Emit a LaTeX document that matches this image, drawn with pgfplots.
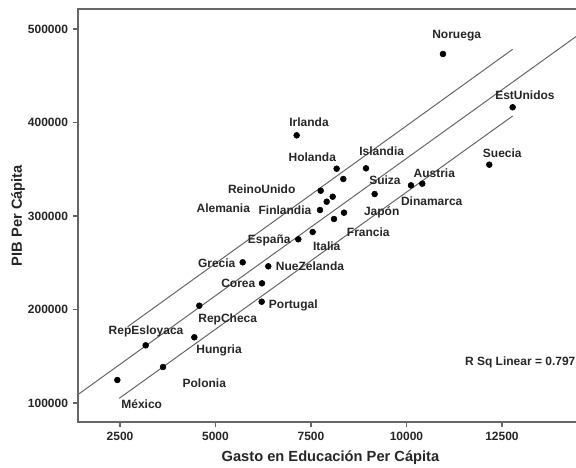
\documentclass[border=0pt]{standalone}
\usepackage{pgfplots}
\pgfplotsset{compat=1.18}
\usepackage{fontspec}
\setmainfont{Liberation Sans}
\begin{document}
\begin{tikzpicture}
\begin{axis}[name=ax, scale only axis, width=381pt, height=309.75pt,
  xmin=1400, xmax=14700, ymin=79700, ymax=521400,
  xtick={2500,5000,7500,10000,12500},
  ytick={100000,200000,300000,400000,500000},
  tick align=outside, tick pos=left, major tick length=4pt,
  scaled ticks=false,
  /pgf/number format/fixed,
  /pgf/number format/precision=0,
  /pgf/number format/assume math mode=true,
  /pgf/number format/set thousands separator={},
  tick label style={font=\fontsize{9}{10}\selectfont\bfseries, text=black!85},
  tick style={draw=black!60, line width=0.8pt},
  axis line style={draw=black!60, line width=0.9pt},
  xlabel={Gasto en Educación Per Cápita},
  ylabel={PIB Per Cápita},
  label style={font=\fontsize{11}{12}\selectfont\bfseries, text=black!85},
  xlabel style={at={(axis description cs:0.497,-0.087)}, anchor=center},
  ylabel style={at={(axis description cs:-0.118,0.5)}, anchor=center},
  clip=false,
]
\addplot[black!60, line width=0.75pt, no marks] coordinates {(1400,109089) (14700,499577)};
\addplot[black!60, line width=0.75pt, no marks] coordinates {(2700,181600) (12780,478300)};
\addplot[black!60, line width=0.75pt, no marks] coordinates {(2480,105000) (12780,407000)};
\addplot[only marks, mark=*, mark size=2.2pt, black] coordinates {
(10955,473300) (12780,416300) (12168,354900) (7125,386300) (8172,350600)
(8346,339600) (8940,351000) (9167,323500) (10118,332800) (10414,334600)
(7754,327100) (8068,320650) (7911,315300) (7736,306400) (8102,296800)
(8364,303550) (7544,282900) (7168,275100) (5712,250500) (6382,246200)
(6217,228000) (6209,208350) (4576,204100) (3172,161700) (4446,170300)
(3626,138500) (2430,124600)
};
\begin{scope}[every node/.style={font=\fontsize{9}{10}\selectfont\bfseries, text=black!85, inner sep=0pt}]
\node at (axis cs:11314,492500) {Noruega};
\node at (axis cs:13102,429400) {EstUnidos};
\node at (axis cs:12508,367060) {Suecia};
\node at (axis cs:7448,399800) {Irlanda};
\node at (axis cs:7534,363400) {Holanda};
\node at (axis cs:9351,369500) {Islandia};
\node at (axis cs:10728,346300) {Austria};
\node at (axis cs:9437,338500) {Suiza};
\node at (axis cs:10660,316000) {Dinamarca};
\node at (axis cs:9351,303960) {Japón};
\node at (axis cs:9000,283200) {Francia};
\node at (axis cs:6209,328900) {ReinoUnido};
\node at (axis cs:5204,308200) {Alemania};
\node at (axis cs:6819,306400) {Finlandia};
\node at (axis cs:6408,274300) {España};
\node at (axis cs:7911,267200) {Italia};
\node at (axis cs:5031,249400) {Grecia};
\node at (axis cs:7474,245800) {NueZelanda};
\node at (axis cs:5597,228000) {Corea};
\node at (axis cs:7037,204800) {Portugal};
\node at (axis cs:5319,189800) {RepCheca};
\node at (axis cs:3181,176300) {RepEsloyaca};
\node at (axis cs:5092,155900) {Hungria};
\node at (axis cs:4707,121100) {Polonia};
\node at (axis cs:3068,98900) {México};
\node[anchor=east] at (axis cs:14430,143100) {R Sq Linear = 0.797};
\end{scope}
\end{axis}
\pgfresetboundingbox
\path ([xshift=-58.5pt,yshift=-34.5pt]ax.south west) rectangle ([xshift=373.5pt,yshift=6.75pt]ax.north west);
\end{tikzpicture}
\end{document}
